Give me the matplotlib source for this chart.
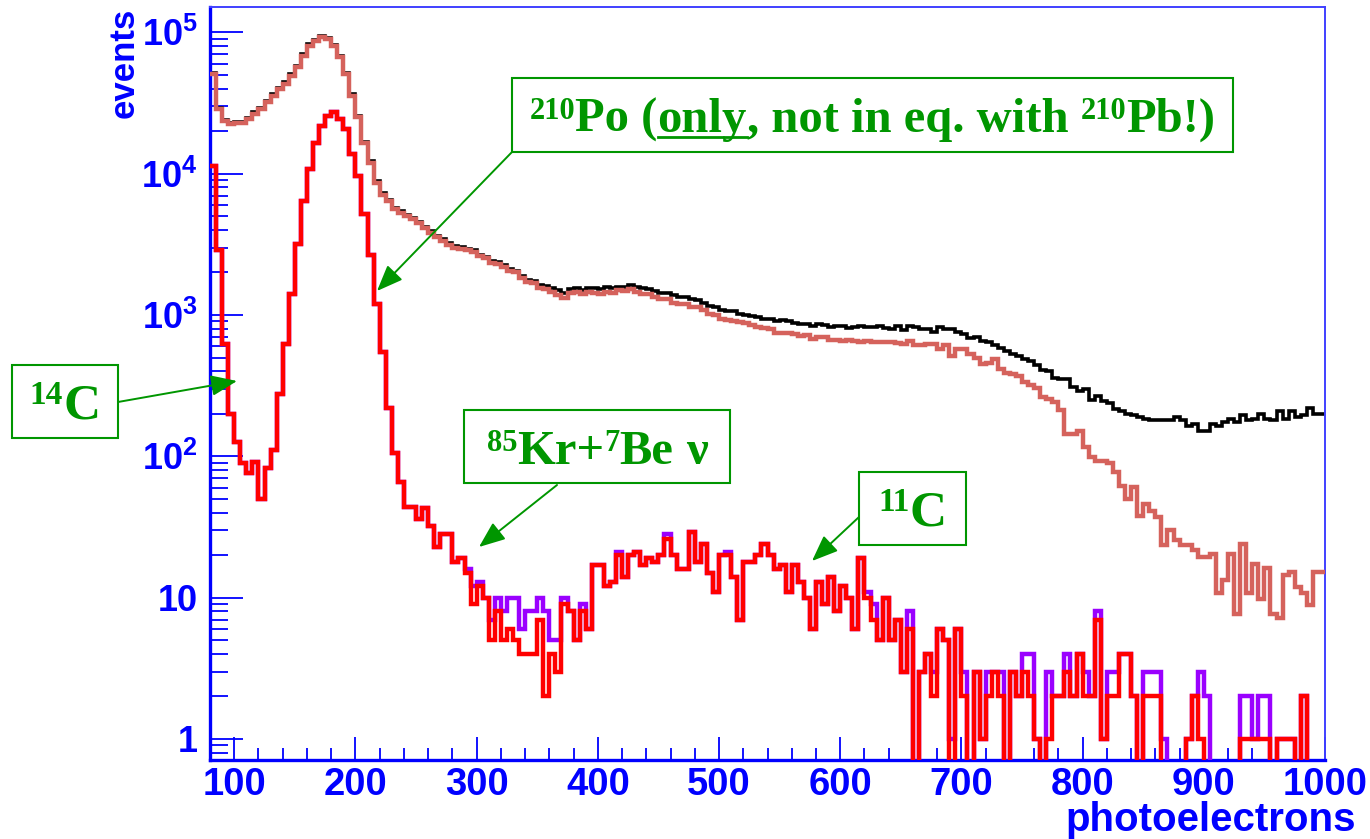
import numpy as np
import matplotlib
matplotlib.use("Agg")
import matplotlib.pyplot as plt
from matplotlib.patches import Rectangle, FancyArrowPatch
from matplotlib.lines import Line2D
from matplotlib.ticker import FixedLocator, NullFormatter

W, H, DPI = 1370, 839, 100

# ---------------- data (5 pe bins starting at 80 pe) ----------------
bin_width = 5
x_start = 80

red = [
    11400, 2860, 626, 200, 126, 89, 76, 91, 50, 82,
    110, 277, 626, 1400, 3190, 6440, 10800, 16600, 21800, 25700,
    27100, 24300, 20700, 13800, 9680, 5190, 2650, 1190, 544, 219,
    106, 66, 44, 44, 36, 43, 32, 23, 28, 28,
    18, 19, 15, 9, 12, 10, 5, 8, 5, 6,
    5, 4, 4, 4, 7, 2, 4, 3, 9, 8,
    5, 8, 6, 17, 17, 12, 13, 20, 14, 20,
    21, 17, 19, 18, 20, 26, 20, 16, 16, 29,
    18, 24, 15, 11, 20, 20, 14, 7, 18, 18,
    20, 24, 20, 16, 17, 11, 17, 13, 10, 6,
    13, 9, 14, 8, 12, 10, 6, 19, 10, 7,
    5, 10, 5, 7, 3, 6, 0, 3, 4, 2,
    6, 5, 0, 6, 2, 0, 3, 1, 2, 3,
    2, 0, 3, 2, 3, 2, 1, 0, 1, 2,
    2, 3, 2, 4, 2, 2, 7, 1, 2, 2,
    4, 4, 2, 0, 2, 2, 2, 0, 0, 0,
    0, 1, 2, 1, 0, 0, 0, 0, 0, 0,
    1, 1, 1, 1, 1, 0, 1, 1, 1, 0,
    2, 0, 0, 0,
]

# purple histogram: equal to red except in these bins (bin start -> value)
purple_diff = {
    290: 16, 295: 12, 300: 13, 310: 7, 315: 10, 320: 8, 325: 10, 330: 10,
    335: 6, 340: 8, 345: 8, 350: 10, 355: 8, 360: 5, 365: 5, 370: 10,
    385: 9, 415: 21, 455: 28, 505: 21, 620: 11, 625: 9, 655: 8, 675: 3,
    690: 1, 700: 3, 720: 3, 730: 3, 750: 4, 755: 4, 770: 3, 785: 4,
    800: 3, 810: 8, 820: 3, 825: 3, 850: 3, 855: 3, 860: 3, 865: 1,
    895: 3, 900: 2, 930: 2, 935: 2, 945: 2, 950: 2,
}

rose = [
    50700, 28600, 23700, 22500, 22900, 22900, 24300, 26400, 28600, 31900,
    35600, 39700, 43000, 49300, 56400, 68200, 80300, 87100, 91900, 90000,
    80300, 66400, 50700, 35600, 25000, 16400, 11800, 8600, 7100, 6400,
    5600, 5300, 5000, 4750, 4450, 4100, 3800, 3550, 3350, 3150,
    3000, 2950, 2860, 2800, 2600, 2520, 2350, 2300, 2180, 2050,
    2000, 1820, 1720, 1690, 1560, 1520, 1450, 1380, 1320, 1440,
    1460, 1400, 1450, 1440, 1410, 1460, 1440, 1490, 1480, 1530,
    1460, 1410, 1400, 1340, 1300, 1290, 1210, 1200, 1190, 1140,
    1130, 1080, 1010, 1000, 940, 920, 910, 893, 880, 850,
    825, 815, 800, 745, 740, 750, 735, 715, 720, 680,
    700, 695, 660, 665, 655, 660, 650, 645, 650, 640,
    645, 640, 640, 635, 620, 658, 610, 610, 625, 625,
    575, 610, 515, 575, 570, 530, 500, 450, 455, 490,
    415, 390, 385, 372, 335, 318, 302, 262, 255, 242,
    211, 144, 144, 150, 116, 99, 93, 93, 89, 77,
    62, 50, 61, 38, 46, 41, 37, 23.5, 30, 25.5,
    23.5, 23.5, 21.7, 19.4, 19.4, 20.5, 10.7, 13.3, 20.5, 7.7,
    24, 10.7, 17.2, 9.8, 16.3, 7.7, 7.2, 14.4, 15.2, 11.9,
    10.7, 8.8, 15.2, 15.2,
]

black = [
    51500, 29000, 24000, 22800, 23300, 23300, 24800, 27300, 29200, 32500,
    36800, 40500, 44200, 50500, 57600, 70300, 82000, 88800, 93700, 91800,
    81900, 67700, 51700, 36300, 25500, 16700, 12300, 8800, 7250, 6550,
    5720, 5420, 5120, 4870, 4560, 4200, 3900, 3640, 3440, 3230,
    3080, 3020, 2930, 2870, 2670, 2590, 2410, 2360, 2240, 2110,
    2060, 1880, 1780, 1750, 1620, 1600, 1540, 1490, 1430, 1530,
    1550, 1500, 1560, 1540, 1530, 1580, 1550, 1590, 1580, 1630,
    1570, 1540, 1530, 1480, 1440, 1420, 1380, 1350, 1330, 1290,
    1270, 1210, 1150, 1130, 1080, 1060, 1070, 1020, 1000, 990,
    960, 930, 940, 900, 920, 900, 880, 860, 870, 840,
    860, 850, 820, 840, 830, 810, 820, 840, 825, 820,
    830, 815, 800, 830, 780, 830, 820, 790, 800, 760,
    820, 790, 800, 760, 730, 690, 700, 650, 640, 610,
    580, 560, 530, 510, 490, 470, 440, 410, 400, 360,
    350, 355, 310, 290, 300, 250, 265, 245, 240, 215,
    210, 200, 195, 190, 185, 180, 180, 180, 180, 190,
    180, 165, 170, 152, 152, 170, 165, 175, 185, 175,
    195, 180, 185, 200, 185, 180, 210, 185, 210, 190,
    195, 220, 200, 198,
]

x_major = [100, 200, 300, 400, 500, 600, 700, 800, 900, 1000]
x_labels = ["100", "200", "300", "400", "500", "600", "700", "800", "900", "1000"]
y_major = [1, 10, 100, 1000, 10000, 100000]
y_labels = ["1", "10", r"$\mathregular{10^{2}}$", r"$\mathregular{10^{3}}$",
            r"$\mathregular{10^{4}}$", r"$\mathregular{10^{5}}$"]

assert len(red) == len(rose) == len(black) == 184

# ---------------- figure ----------------
BLUE = "#0000FF"
GREEN = "#009600"
SANS = ["Liberation Sans", "DejaVu Sans"]
SERIF = ["Liberation Serif", "DejaVu Serif"]

fig = plt.figure(figsize=(W / DPI, H / DPI), dpi=DPI)
ax = fig.add_axes([210 / W, 1 - 760 / H, (1325 - 210) / W, (760 - 7) / H])

edges = x_start + bin_width * np.arange(len(red) + 1)
bin_starts = edges[:-1]
purple = np.array(red, float)
for b, v in purple_diff.items():
    purple[np.where(bin_starts == b)[0][0]] = v


def stepline(vals, **kw):
    v = np.asarray(vals, float)
    ax.step(edges, np.append(v, v[-1]), where="post", solid_joinstyle="miter", **kw)


stepline(black, color="black", lw=2.6, zorder=2)
stepline(rose, color="#D5625C", lw=3.2, zorder=3)
stepline(purple, color="#9A00FF", lw=3.2, zorder=4)
stepline(red, color="#FF0000", lw=3.2, zorder=5)

ax.set_yscale("log", nonpositive="clip")
ax.set_xlim(80, 1000)
ax.set_ylim(0.71, 1.51e5)

ax.set_xticks(x_major)
ax.set_xticklabels(x_labels)
ax.xaxis.set_minor_locator(FixedLocator([v for v in range(80, 1001, 20) if v % 100]))
ax.set_yticks(y_major)
ax.set_yticklabels(y_labels)
yminor = [m * 10.0 ** k for k in range(-1, 6) for m in range(2, 10)]
ax.yaxis.set_minor_locator(FixedLocator([v for v in yminor if 0.71 < v < 1.51e5]))
ax.yaxis.set_minor_formatter(NullFormatter())

ax.tick_params(which="both", direction="in", colors=BLUE, top=False, right=False)
ax.tick_params(axis="y", which="major", length=23.5, width=1.3, pad=9)
ax.tick_params(axis="y", which="minor", length=13, width=1.3)
ax.tick_params(axis="x", which="major", length=16.5, width=1.3, pad=5)
ax.tick_params(axis="x", which="minor", length=8.5, width=1.3)
for lab in ax.get_yticklabels():
    lab.set_fontfamily(SANS)
    lab.set_fontweight("bold")
    lab.set_fontsize(26)
    lab.set_color(BLUE)
for lab in ax.get_xticklabels():
    lab.set_fontfamily(SANS)
    lab.set_fontweight("bold")
    lab.set_fontsize(27.5)
    lab.set_color(BLUE)

for s in ("left", "bottom"):
    ax.spines[s].set_color(BLUE)
    ax.spines[s].set_linewidth(2.4)
for s in ("top", "right"):
    ax.spines[s].set_color("#4040FF")
    ax.spines[s].set_linewidth(1.4)


def px(x, y):
    return x / W, 1 - y / H


fig.text(*px(124, 8), "events", rotation=90, ha="center", va="top",
         fontsize=25, fontweight="bold", family=SANS, color=BLUE)
fig.text(*px(1356, 831), "photoelectrons", ha="right", va="baseline",
         fontsize=29, fontweight="bold", family=SANS, color=BLUE)

renderer = fig.canvas.get_renderer()


def label_box(pieces, box, baseline):
    widths = []
    for txt, size, rise, ul in pieces:
        if txt == " ":
            widths.append(size * DPI / 72 * 0.25)
            continue
        t = fig.text(0, 0, txt, fontsize=size, family=SERIF, weight="bold")
        widths.append(t.get_window_extent(renderer).width)
        t.remove()
    total = sum(widths)
    x = (box[0] + box[2]) / 2 - total / 2
    fig.add_artist(Rectangle(px(box[0], box[3]), (box[2] - box[0]) / W,
                             (box[3] - box[1]) / H, transform=fig.transFigure,
                             facecolor="white", edgecolor=GREEN, lw=1.5, zorder=5))
    for (txt, size, rise, ul), w in zip(pieces, widths):
        if txt != " ":
            fig.text(*px(x, baseline - rise), txt, fontsize=size, family=SERIF,
                     weight="bold", color=GREEN, ha="left", va="baseline", zorder=6)
            if ul:
                fig.add_artist(Line2D([x / W, (x + w) / W], [1 - (baseline + 5) / H] * 2,
                                      color=GREEN, lw=2.0, zorder=6))
        x += w


def arrow(p0, p1):
    fig.add_artist(FancyArrowPatch(px(*p0), px(*p1), transform=fig.transFigure,
                                   arrowstyle="-|>,head_length=1.0,head_width=0.4",
                                   mutation_scale=16, color=GREEN, lw=1.4,
                                   shrinkA=0, shrinkB=0, zorder=6))


SUP, MAIN, RISE = 22, 35, 13
label_box([("210", SUP, RISE, False), ("Po (", MAIN, 0, False), ("only", MAIN, 0, True),
           (", not in eq. with", MAIN, 0, False), (" ", MAIN, 0, False),
           ("210", SUP, RISE, False), ("Pb!)", MAIN, 0, False)],
          (512, 78, 1233, 152), 132)
arrow((512, 152), (377, 291))

label_box([("14", 24, 15, False), ("C", 37, 0, False)], (12, 365, 118, 438), 419)
arrow((118, 402), (237, 381))

label_box([("85", SUP, RISE, False), ("Kr+", MAIN, 0, False), ("7", SUP, RISE, False),
           ("Be", MAIN, 0, False), (" ", MAIN, 0, False), ("\u03bd", MAIN, 0, False)],
          (464, 410, 730, 483), 464)
arrow((557, 485), (479, 547))

label_box([("11", 24, 15, False), ("C", 37, 0, False)], (859, 472, 966, 545), 526)
arrow((859, 517), (812, 561))

fig.savefig("out.png", dpi=DPI)
